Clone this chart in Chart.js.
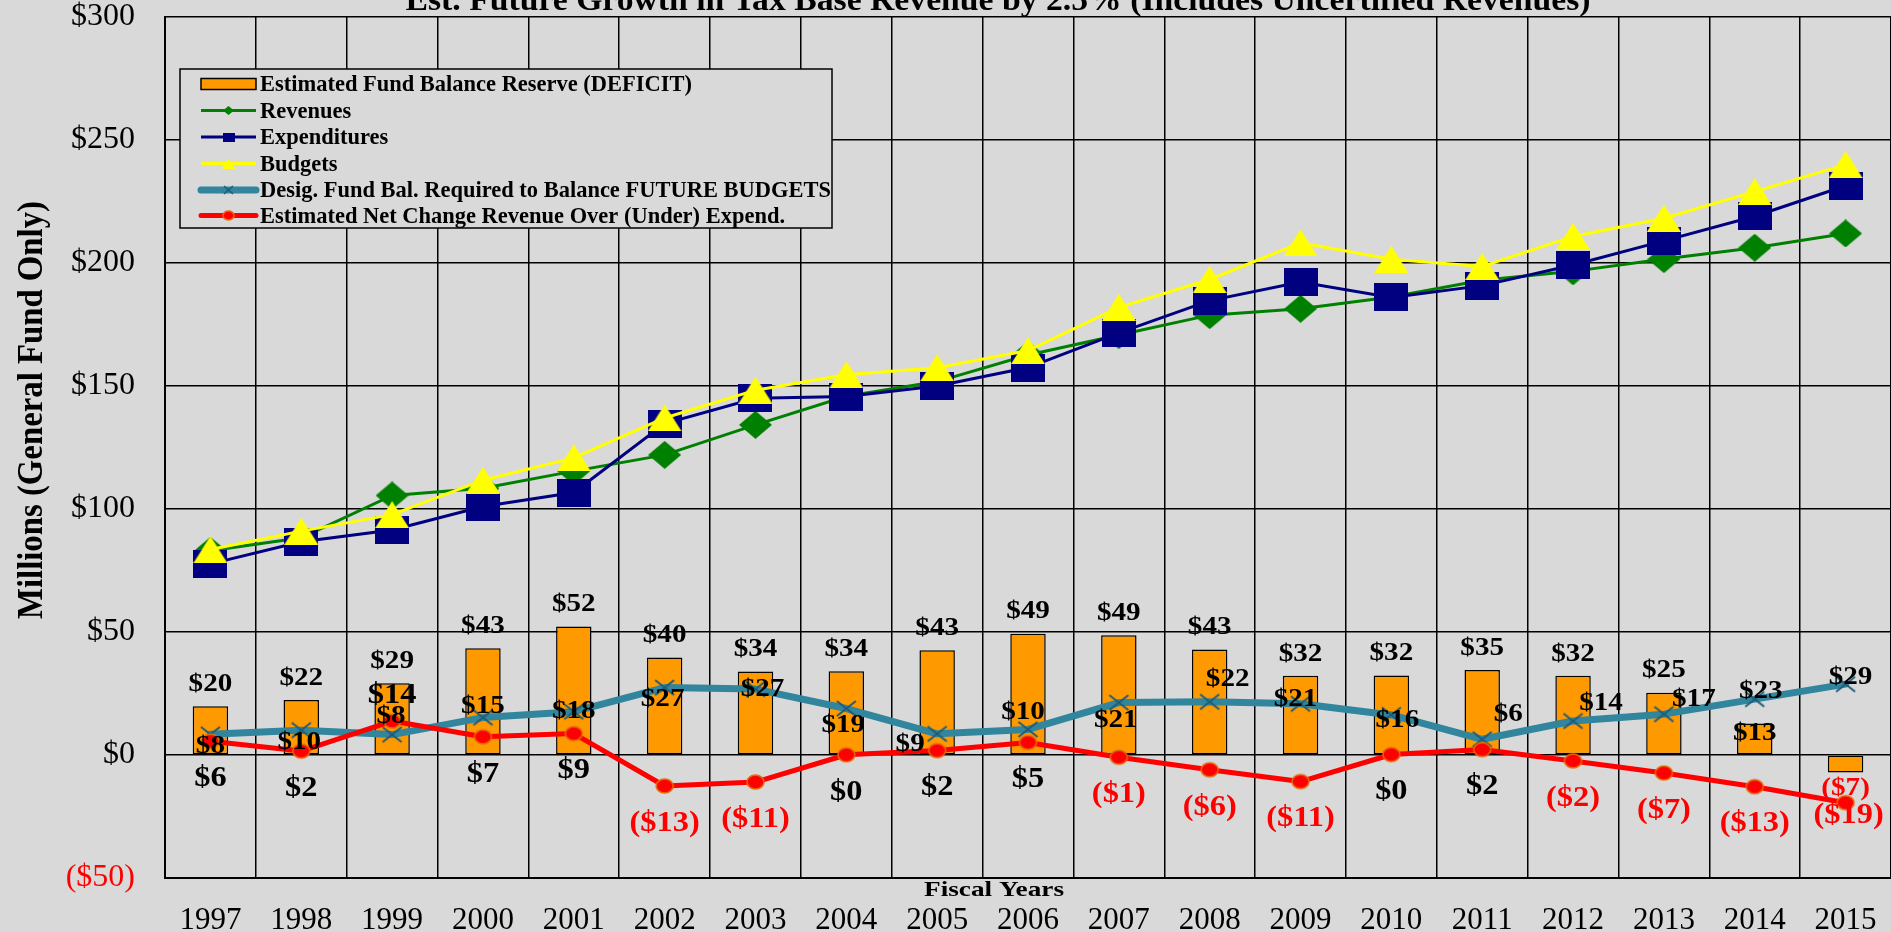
<!DOCTYPE html>
<html>
<head>
<meta charset="utf-8">
<script src="https://cdn.jsdelivr.net/npm/chart.js@4.4.0/dist/chart.umd.min.js"></script>
<style>
  html, body { margin: 0; padding: 0; background: #D9D9D9; overflow: hidden; }
  canvas { display: block; }
</style>
</head>
<body>
<canvas id="chart" width="1891" height="932"></canvas>
<script>
// ---------------- DATA ----------------
const categories = ['1997','1998','1999','2000','2001','2002','2003','2004','2005','2006',
                    '2007','2008','2009','2010','2011','2012','2013','2014','2015'];
const fundBalanceReserve = [19.8, 22.4, 29.2, 43.4, 52.2, 39.6, 33.9, 34.0, 42.6, 49.3,
                            48.7, 42.9, 32.2, 32.3, 34.6, 32.2, 25.3, 12.8, -7.1];
const revenues     = [83.0, 88.3, 105.5, 108.4, 115.4, 122.0, 134.2, 145.8, 151.8, 162.6,
                      170.7, 178.8, 181.4, 186.2, 193.0, 196.6, 201.6, 206.2, 212.0];
const expenditures = [77.7, 86.7, 91.5, 101.0, 106.7, 134.7, 145.0, 145.7, 150.0, 157.5,
                      171.6, 184.7, 192.3, 186.0, 190.8, 199.2, 209.0, 219.0, 231.4];
const budgets      = [83.5, 91.0, 97.7, 111.7, 120.8, 137.0, 148.3, 154.6, 157.4, 164.4,
                      182.0, 193.3, 208.2, 201.5, 198.6, 210.8, 218.2, 229.0, 240.0];
const desigFundBalance = [8.4, 10.1, 8.3, 15.2, 17.6, 27.4, 26.8, 18.9, 8.6, 10.4,
                          21.3, 21.6, 20.8, 16.3, 6.4, 13.8, 16.6, 22.7, 28.8];
const netChange    = [5.6, 1.6, 13.8, 7.4, 8.7, -12.6, -11.0, 0.1, 1.8, 5.1,
                      -0.9, -6.0, -10.8, 0.2, 2.2, -2.4, -7.3, -12.9, -19.4];
const yMin = -50, yMax = 300, yStep = 50;

const seriesNames = [
  'Estimated Fund Balance Reserve (DEFICIT)',
  'Revenues',
  'Expenditures',
  'Budgets',
  'Desig. Fund Bal. Required to Balance FUTURE BUDGETS',
  'Estimated Net Change Revenue Over (Under) Expend.'
];
const titleText  = 'Est. Future Growth in Tax Base Revenue by 2.5% (Includes Uncertified Revenues)';
const yTitleText = 'Millions (General Fund Only)';
const xTitleText = 'Fiscal Years';

// ---------------- STYLE / LABEL PLACEMENT (pixels) ----------------
const SERIF = '"Liberation Serif", "Times New Roman", serif';
const BG = '#D9D9D9';
const C = { bar:'#FF9900', rev:'#008000', exp:'#000080', bud:'#FFFF00',
            desig:'#31859C', desigMk:'#1F5C78', net:'#FF0000', netEdge:'#E46C0A' };
const barLabelShift = { '2014': 10 };                 // default: -22 above, +16 below negative
const netLabelShift = { '1999': [0,-26], '2015': [3,13] }; // default [0,37]
const desigLabelShift = {
  '1997':[0,12], '1998':[-2,12], '1999':[-1,-18], '2000':[0,-11], '2001':[0,0],
  '2002':[-2,12], '2003':[7,0], '2004':[-3,17], '2005':[-27,10], '2006':[-5,-17],
  '2007':[-3,18], '2008':[18,-23], '2009':[-5,-5], '2010':[6,5], '2011':[26,-25],
  '2012':[28,-18], '2013':[30,-15], '2014':[6,-8], '2015':[5,-7]
};

function marker(kind, w, h, fill, stroke, lw) {
  lw = lw || 0;
  const pad = Math.ceil(lw);
  const c = document.createElement('canvas');
  c.width = w + 2 * pad; c.height = h + 2 * pad;
  const g = c.getContext('2d');
  g.translate(pad, pad);
  g.beginPath();
  if (kind === 'rect') g.rect(0, 0, w, h);
  else if (kind === 'diamond') { g.moveTo(w/2,0); g.lineTo(w,h/2); g.lineTo(w/2,h); g.lineTo(0,h/2); g.closePath(); }
  else if (kind === 'triangle') { g.moveTo(w/2,0); g.lineTo(w,h); g.lineTo(0,h); g.closePath(); }
  else if (kind === 'ellipse') g.ellipse(w/2, h/2, w/2, h/2, 0, 0, Math.PI*2);
  else if (kind === 'cross') { g.moveTo(0,0); g.lineTo(w,h); g.moveTo(w,0); g.lineTo(0,h); }
  if (fill && kind !== 'cross') { g.fillStyle = fill; g.fill(); }
  if (stroke) { g.strokeStyle = stroke; g.lineWidth = lw; g.stroke(); }
  return c;
}
const MK = {
  rev: marker('diamond', 33, 28, C.rev),
  exp: marker('rect', 34, 28, C.exp),
  bud: marker('triangle', 34, 27, C.bud),
  desig: marker('cross', 19, 15, null, C.desigMk, 2),
  net: marker('ellipse', 17, 14, C.net, C.netEdge, 1.5)
};
const MKS = {
  rev: marker('diamond', 11, 9, C.rev),
  exp: marker('rect', 12, 9, C.exp),
  bud: marker('triangle', 13, 10, C.bud),
  desig: marker('cross', 9, 8, null, C.desigMk, 1.5),
  net: marker('ellipse', 11, 9, C.net, C.netEdge, 1.5)
};

function fmt(v) {
  const r = Math.round(Math.abs(v));
  return (v < 0 && r !== 0) ? '($' + r + ')' : '$' + r;
}
function drawText(ctx, text, x, y, font, color, sx, align) {
  ctx.save();
  ctx.font = font; ctx.fillStyle = color;
  ctx.textAlign = align || 'center';
  ctx.translate(x, y); ctx.scale(sx || 1, 1);
  ctx.fillText(text, 0, 0);
  ctx.restore();
}
function fitScale(ctx, text, font, target) {
  ctx.save(); ctx.font = font; const w = ctx.measureText(text).width; ctx.restore();
  return target / w;
}

const bgPlugin = {
  id: 'bg',
  beforeDraw(chart) {
    const ctx = chart.ctx;
    ctx.save(); ctx.fillStyle = BG; ctx.fillRect(0, 0, chart.width, chart.height); ctx.restore();
  }
};

const labelPlugin = {
  id: 'valueLabels',
  afterDatasetsDraw(chart) {
    const ctx = chart.ctx;
    ctx.save();
    ctx.textBaseline = 'middle';
    const fBar = 'bold 26px ' + SERIF, fNet = 'bold 30px ' + SERIF;
    // bars
    chart.getDatasetMeta(0).data.forEach((el, i) => {
      const v = fundBalanceReserve[i];
      const dy = barLabelShift[categories[i]] !== undefined ? barLabelShift[categories[i]] : (v < 0 ? 16 : -22);
      drawText(ctx, fmt(v), el.x, el.y + dy, fBar, v < 0 ? '#FF0000' : '#000', 1.12);
    });
    // designated fund balance
    chart.getDatasetMeta(4).data.forEach((el, i) => {
      const s = desigLabelShift[categories[i]] || [0, 0];
      drawText(ctx, fmt(desigFundBalance[i]), el.x + s[0], el.y + s[1], fBar, '#000', 1.12);
    });
    // net change
    chart.getDatasetMeta(5).data.forEach((el, i) => {
      const v = netChange[i];
      const s = netLabelShift[categories[i]] || [0, 37];
      const neg = Math.round(v) < 0;
      drawText(ctx, fmt(v), el.x + s[0], el.y + s[1], fNet, neg ? '#FF0000' : '#000', 1.08);
    });
    ctx.restore();
  }
};

const decorPlugin = {
  id: 'decor',
  afterDraw(chart) {
    const ctx = chart.ctx;
    ctx.save();
    // title (clipped at top, as in the original)
    ctx.textBaseline = 'alphabetic';
    const fT = 'bold 31px ' + SERIF;
    drawText(ctx, titleText, 998, 10, fT, '#000', fitScale(ctx, titleText, fT, 1185));
    // y axis title
    const fY = 'bold 35px ' + SERIF;
    const sy = fitScale(ctx, yTitleText, fY, 418);
    ctx.save();
    ctx.translate(33, 410); ctx.rotate(-Math.PI / 2);
    ctx.textBaseline = 'middle';
    drawText(ctx, yTitleText, 0, 0, fY, '#000', sy);
    ctx.restore();
    // x axis title
    ctx.textBaseline = 'middle';
    const fX = 'bold 21px ' + SERIF;
    drawText(ctx, xTitleText, 994, 891, fX, '#000', fitScale(ctx, xTitleText, fX, 140));

    // legend
    const L = { x: 180, y: 69, w: 652, h: 159 };
    ctx.fillStyle = BG; ctx.fillRect(L.x, L.y, L.w, L.h);
    ctx.strokeStyle = '#000'; ctx.lineWidth = 1.5; ctx.strokeRect(L.x, L.y, L.w, L.h);
    const rows = [84, 110.5, 137, 163.5, 190, 215.5];
    const x0 = 201, x1 = 256, xm = 228.5;
    const fL = 'bold 24px ' + SERIF;
    const sl = fitScale(ctx, seriesNames[0], fL, 432);
    // row 0: bar swatch
    ctx.fillStyle = C.bar; ctx.fillRect(x0, rows[0] - 5.5, x1 - x0, 11);
    ctx.strokeStyle = '#000'; ctx.lineWidth = 1.5; ctx.strokeRect(x0, rows[0] - 5.5, x1 - x0, 11);
    const lineRows = [
      [C.rev, 3, MKS.rev, 'butt'], [C.exp, 3, MKS.exp, 'butt'], [C.bud, 3, MKS.bud, 'butt'],
      [C.desig, 7, MKS.desig, 'round'], [C.net, 5, MKS.net, 'round']
    ];
    lineRows.forEach((r, k) => {
      const y = rows[k + 1];
      ctx.strokeStyle = r[0]; ctx.lineWidth = r[1]; ctx.lineCap = r[3];
      ctx.beginPath(); ctx.moveTo(x0, y); ctx.lineTo(x1, y); ctx.stroke();
      ctx.drawImage(r[2], xm - r[2].width / 2, y - r[2].height / 2);
    });
    ctx.lineCap = 'butt';
    rows.forEach((y, k) => drawText(ctx, seriesNames[k], 260, y + 1, fL, '#000', sl, 'left'));
    ctx.restore();
  }
};

const lineCommon = { type: 'line', tension: 0, pointRadius: 14, pointHoverRadius: 14, fill: false };

new Chart(document.getElementById('chart'), {
  type: 'bar',
  data: {
    labels: categories,
    datasets: [
      { type: 'bar', label: seriesNames[0], data: fundBalanceReserve, backgroundColor: C.bar,
        borderColor: '#000', borderWidth: 1.5, borderSkipped: false,
        barPercentage: 0.39, categoryPercentage: 1, order: 6 },
      Object.assign({}, lineCommon, { label: seriesNames[1], data: revenues, borderColor: C.rev,
        backgroundColor: C.rev, borderWidth: 3, pointStyle: MK.rev, order: 4 }),
      Object.assign({}, lineCommon, { label: seriesNames[2], data: expenditures, borderColor: C.exp,
        backgroundColor: C.exp, borderWidth: 3, pointStyle: MK.exp, order: 3 }),
      Object.assign({}, lineCommon, { label: seriesNames[3], data: budgets, borderColor: C.bud,
        backgroundColor: C.bud, borderWidth: 3, pointStyle: MK.bud, order: 2 }),
      Object.assign({}, lineCommon, { label: seriesNames[4], data: desigFundBalance, borderColor: C.desig,
        backgroundColor: C.desig, borderWidth: 7, borderCapStyle: 'round', borderJoinStyle: 'round',
        pointStyle: MK.desig, order: 5 }),
      Object.assign({}, lineCommon, { label: seriesNames[5], data: netChange, borderColor: C.net,
        backgroundColor: C.net, borderWidth: 5, borderCapStyle: 'round', borderJoinStyle: 'round',
        pointStyle: MK.net, order: 1 })
    ]
  },
  options: {
    responsive: false,
    animation: false,
    events: [],
    layout: { autoPadding: false, padding: { left: 0, right: 0, top: 17, bottom: 0 } },
    plugins: { legend: { display: false }, tooltip: { enabled: false }, title: { display: false } },
    scales: {
      x: {
        offset: true,
        grid: { color: '#000', lineWidth: 1.5, drawTicks: false, offset: true },
        border: { color: '#000', width: 2 },
        ticks: { font: { family: SERIF, size: 31 }, color: '#000', padding: 24,
                 maxRotation: 0, autoSkip: false },
        afterFit(s) { s.height = 54; s.paddingLeft = 0; s.paddingRight = 0; }
      },
      y: {
        min: yMin, max: yMax,
        grid: { color: '#000', lineWidth: 1.5, drawTicks: false },
        border: { color: '#000', width: 2 },
        ticks: {
          stepSize: yStep,
          padding: 30,
          font: { family: SERIF, size: 32 },
          color: (c) => (c.tick && c.tick.value < 0) ? '#FF0000' : '#000',
          callback: (v) => v < 0 ? '($' + (-v) + ')' : '$' + v
        },
        afterFit(s) { s.width = 165; s.paddingTop = 0; s.paddingBottom = 0; }
      }
    }
  },
  plugins: [bgPlugin, labelPlugin, decorPlugin]
});
</script>
</body>
</html>
